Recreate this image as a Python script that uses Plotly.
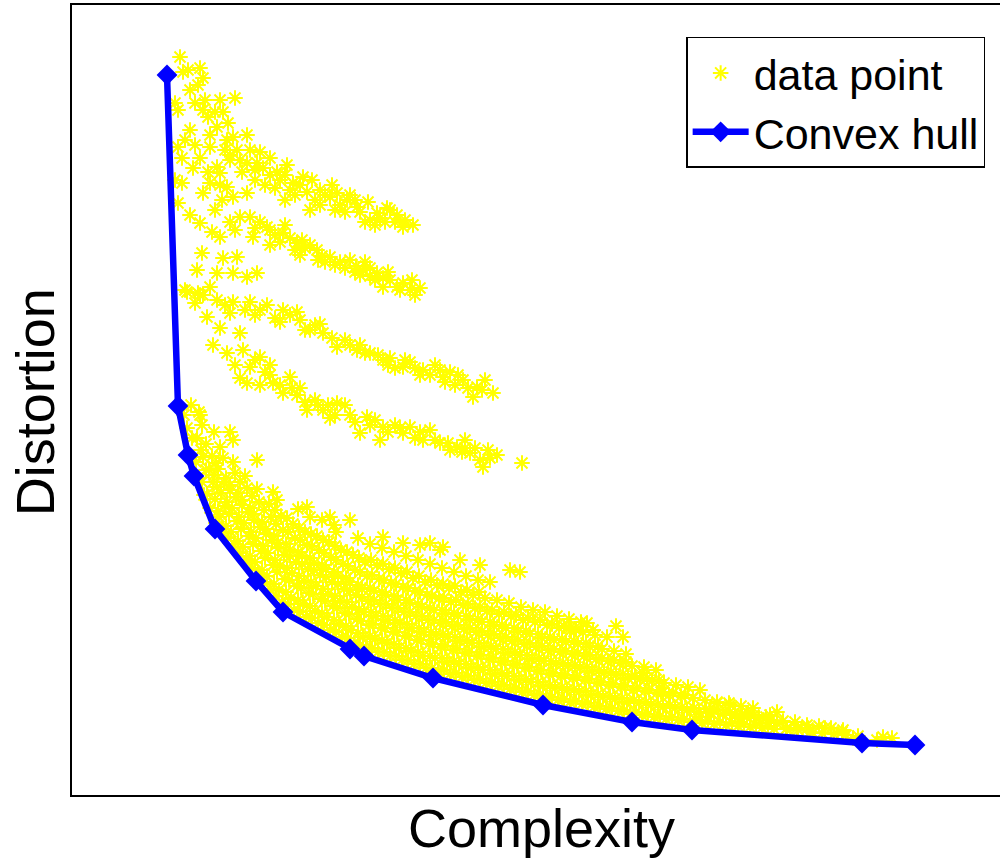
import plotly.graph_objects as go

# Convex hull vertices (complexity, distortion) in arbitrary units
hull_complexity = [97, 108, 118, 124, 145, 186, 213, 280, 294, 363, 473, 562, 622, 792, 845]
hull_distortion = [725, 394, 345, 324, 271, 219, 188, 151, 144, 122, 95, 78, 70, 57, 55]

# Data point clusters (complexity, distortion)
band_a = [
    (108, 653), (112, 642), (123, 632), (130, 642), (147, 633), (150, 627), (140, 617), (133, 607),
    (157, 613), (163, 603), (177, 607), (108, 597), (120, 585), (130, 577), (142, 568), (150, 563),
    (132, 547), (153, 542), (167, 543), (127, 530), (147, 527), (163, 527), (177, 523), (187, 527),
    (115, 510), (133, 505), (140, 513), (105, 620), (112, 617), (105, 697), (108, 690), (113, 728),
    (110, 743), (130, 732), (133, 722), (165, 702), (120, 710), (125, 697), (133, 690), (145, 688),
    (153, 688), (138, 683), (147, 673), (158, 677), (120, 670), (140, 653), (157, 660), (163, 663),
    (177, 665), (167, 650), (180, 650), (190, 648), (177, 637), (187, 637), (200, 642), (193, 632),
    (207, 628), (217, 635), (210, 620), (223, 617), (233, 623), (237, 608), (250, 610), (260, 603),
    (267, 607), (277, 600), (287, 593), (298, 598), (307, 587), (317, 592), (327, 585), (333, 573),
    (343, 575), (230, 615), (245, 600), (220, 610), (270, 595), (290, 588), (310, 582), (325, 578),
    (280, 605), (200, 625), (185, 630), (170, 640), (155, 650), (300, 580), (250, 595),
    (185, 620), (195, 615), (205, 612), (215, 600), (225, 605), (240, 590), (255, 605), (265, 590),
    (275, 588), (285, 600), (295, 578), (305, 575), (315, 578), (320, 590), (335, 580), (262, 615),
    (242, 620), (215, 625), (172, 628), (160, 640), (150, 615), (138, 628), (125, 655), (115, 660),
    (135, 700), (150, 700), (128, 715), (118, 730), (140, 665), (160, 645),
]
band_b = [
    (180, 583), (197, 573), (213, 567), (227, 557), (247, 550), (260, 543), (280, 540), (293, 530),
    (307, 527), (320, 520), (333, 517), (350, 512), (183, 563), (190, 578), (170, 583), (160, 578),
    (205, 565), (220, 562), (235, 552), (252, 544), (270, 538), (286, 534), (300, 524), (313, 522),
    (327, 513), (340, 510), (313, 513), (290, 525), (275, 532), (230, 545), (200, 555), (342, 520),
    (145, 590), (152, 600), (165, 570), (185, 572), (210, 558), (225, 550), (240, 555), (255, 538),
    (265, 535), (285, 528), (295, 538), (305, 520), (318, 528), (330, 510), (345, 505), (300, 532),
    (248, 540), (232, 560), (215, 575), (200, 570),
]
band_c = [
    (117, 508), (130, 505), (147, 500), (163, 498), (180, 498), (197, 495), (213, 490), (227, 488),
    (240, 470), (253, 467), (267, 453), (287, 450), (300, 447), (313, 440), (333, 433), (353, 430),
    (373, 423), (393, 420), (407, 413), (423, 407), (403, 403), (137, 483), (150, 472), (143, 455),
    (170, 467), (160, 487), (230, 480), (245, 475), (275, 460), (290, 455), (320, 442), (340, 438),
    (360, 425), (380, 428), (385, 415), (415, 420), (365, 435), (325, 432), (205, 482), (185, 485),
    (125, 497), (128, 507), (155, 495), (175, 490), (190, 490), (210, 478), (220, 485), (235, 470),
    (250, 476), (262, 462), (280, 455), (295, 447), (308, 445), (318, 435), (335, 440), (350, 425),
    (370, 430), (388, 425), (398, 412), (412, 410), (375, 418), (345, 432),
]
band_d = [
    (157, 447), (173, 450), (190, 443), (180, 433), (177, 417), (190, 415), (203, 417), (220, 423),
    (213, 407), (227, 405), (237, 390), (253, 390), (267, 397), (280, 385), (297, 383), (313, 373),
    (333, 367), (353, 360), (370, 357), (387, 353), (400, 347), (413, 333), (427, 345), (452, 337),
    (340, 373), (290, 367), (310, 360), (165, 435), (200, 435), (245, 400), (260, 382), (275, 395),
    (325, 375), (345, 362), (360, 370), (380, 350), (395, 360), (418, 350), (305, 380), (230, 412),
    (170, 422), (195, 428), (185, 440), (200, 425), (210, 415), (222, 412), (235, 398), (248, 395),
    (258, 395), (265, 385), (285, 378), (300, 375), (318, 368), (330, 372), (350, 368), (365, 360),
    (378, 357), (392, 348), (405, 352), (420, 342), (410, 340), (395, 352),
]
lower_core = [
    (114, 385), (117, 372), (121, 395), (122, 362),
    (128, 322), (126, 338), (131, 350), (127, 362), (132, 375), (129, 388),
    (140, 292), (137, 306), (143, 318), (139, 331), (142, 344), (136, 356), (144, 368),
    (152, 271), (149, 283), (155, 294), (151, 307), (154, 318), (148, 331), (153, 342), (150, 353),
    (164, 256), (161, 268), (167, 279), (162, 292), (166, 303), (160, 315), (165, 327), (163, 338),
    (176, 240), (173, 253), (179, 264), (174, 277), (178, 288), (172, 300), (177, 312), (175, 324),
    (188, 226), (185, 238), (191, 249), (186, 262), (190, 273), (184, 286), (189, 298), (187, 311),
    (200, 211), (197, 224), (203, 235), (198, 247), (202, 260), (196, 271), (201, 283), (199, 296), (203, 308),
    (212, 197), (209, 210), (215, 221), (210, 234), (214, 245), (208, 257), (213, 270), (211, 284), (207, 300),
    (224, 190), (221, 202), (227, 214), (222, 227), (226, 238), (220, 250), (225, 262), (223, 276), (228, 291),
    (236, 183), (233, 196), (239, 207), (234, 219), (238, 231), (232, 244), (237, 255), (235, 268), (240, 283),
    (248, 177), (245, 189), (251, 201), (246, 214), (250, 225), (244, 237), (249, 250), (247, 264), (252, 280),
    (260, 170), (257, 183), (263, 194), (258, 206), (262, 218), (256, 231), (261, 243), (259, 258), (264, 275),
    (272, 163), (269, 176), (275, 187), (270, 199), (274, 211), (268, 224), (273, 236), (271, 250), (266, 268),
    (284, 157), (281, 170), (287, 181), (282, 193), (286, 205), (280, 218), (285, 230), (283, 245), (288, 262),
    (296, 151), (293, 163), (299, 175), (294, 188), (298, 199), (292, 211), (297, 224), (295, 238), (300, 256),
    (308, 148), (305, 161), (311, 172), (306, 184), (310, 196), (304, 209), (309, 221), (307, 235), (312, 252),
    (320, 144), (317, 157), (323, 168), (318, 180), (322, 192), (316, 205), (321, 217), (319, 231), (324, 248),
    (332, 140), (329, 152), (335, 164), (330, 177), (334, 188), (328, 200), (333, 213), (331, 227), (336, 244),
    (344, 136), (341, 149), (347, 160), (342, 172), (346, 184), (340, 197), (345, 209), (343, 222), (348, 240),
    (356, 132), (353, 144), (359, 156), (354, 168), (358, 180), (352, 193), (357, 205), (355, 218), (360, 236),
    (368, 129), (365, 142), (371, 153), (366, 165), (370, 177), (364, 190), (369, 202), (367, 215), (372, 232),
    (380, 126), (377, 138), (383, 150), (378, 163), (382, 174), (376, 186), (381, 198), (379, 212), (384, 228),
    (392, 123), (389, 136), (395, 147), (390, 159), (394, 171), (388, 184), (393, 195), (391, 208), (396, 224),
    (404, 120), (401, 132), (407, 144), (402, 157), (406, 168), (400, 180), (405, 192), (403, 205), (408, 220),
    (416, 117), (413, 130), (419, 141), (414, 153), (418, 165), (412, 178), (417, 189), (415, 202), (420, 218),
    (428, 114), (425, 126), (431, 138), (426, 151), (430, 162), (424, 174), (429, 186), (427, 200),
    (440, 111), (437, 124), (443, 135), (438, 147), (442, 159), (436, 172), (441, 184), (439, 197),
    (452, 108), (449, 120), (455, 132), (450, 145), (454, 156), (448, 168), (453, 180), (451, 193),
    (464, 105), (461, 118), (467, 129), (462, 141), (466, 153), (460, 166), (465, 178), (463, 190),
    (476, 102), (473, 114), (479, 126), (474, 139), (478, 150), (472, 162), (477, 175), (475, 188),
    (488, 100), (485, 112), (491, 124), (486, 136), (490, 148), (484, 160), (489, 172), (487, 184),
    (500, 98), (497, 110), (503, 122), (498, 134), (502, 146), (496, 158), (501, 170), (499, 181),
    (512, 96), (509, 108), (515, 120), (510, 132), (514, 144), (508, 156), (513, 168), (511, 178),
    (524, 93), (521, 105), (527, 117), (522, 129), (526, 141), (520, 153), (525, 165),
    (536, 91), (533, 103), (539, 115), (534, 127), (538, 139), (532, 151), (537, 163),
    (548, 89), (545, 101), (551, 113), (546, 125), (550, 137), (544, 149),
    (560, 86), (557, 98), (563, 110), (558, 122), (562, 134), (556, 146),
    (572, 85), (569, 97), (575, 109), (570, 121), (574, 133),
    (584, 83), (581, 95), (587, 107), (582, 119), (586, 130),
    (596, 81), (593, 93), (599, 105), (594, 117),
    (608, 80), (605, 92), (611, 104), (606, 115),
    (620, 78), (617, 90), (623, 102), (618, 113),
    (632, 77), (629, 88), (635, 100),
    (644, 76), (641, 87), (647, 98),
    (656, 75), (653, 86), (659, 97),
    (668, 74), (665, 85), (671, 94),
    (680, 73), (677, 83), (683, 92),
    (692, 72), (689, 82),
    (704, 71), (701, 80), (707, 88),
    (716, 71), (713, 79),
    (728, 70), (725, 78),
    (740, 68), (737, 75),
    (752, 67), (749, 74),
    (764, 66), (761, 72),
    (776, 65), (773, 70),
    (788, 64),
]
lower_fill = [
    (134, 305), (132, 318), (136, 330), (133, 343),
    (146, 277), (148, 289), (145, 301), (147, 313), (144, 325), (146, 337),
    (158, 262), (156, 274), (159, 286), (157, 298), (160, 310), (156, 322),
    (170, 247), (168, 259), (171, 271), (169, 283), (172, 295), (168, 307), (170, 318),
    (182, 232), (180, 244), (183, 256), (181, 268), (184, 280), (180, 292), (182, 304),
    (194, 218), (192, 230), (195, 242), (193, 254), (196, 266), (192, 278), (194, 290),
    (206, 204), (204, 216), (207, 228), (205, 240), (208, 252), (204, 264), (206, 276), (205, 290),
    (218, 196), (216, 208), (219, 220), (217, 232), (220, 244), (216, 256), (218, 268), (217, 282),
    (230, 188), (228, 200), (231, 212), (229, 224), (232, 236), (228, 248), (230, 260), (229, 272),
    (242, 182), (240, 194), (243, 206), (241, 218), (244, 230), (240, 242), (242, 254), (241, 266),
    (254, 175), (252, 187), (255, 199), (253, 211), (256, 223), (252, 235), (254, 247), (253, 260),
    (266, 168), (264, 180), (267, 192), (265, 204), (268, 216), (264, 228), (266, 240), (265, 254),
    (278, 162), (276, 174), (279, 186), (277, 198), (280, 210), (276, 222), (278, 234), (277, 248),
    (290, 155), (288, 167), (291, 179), (289, 191), (292, 203), (288, 215), (290, 228), (289, 242),
    (302, 152), (300, 164), (303, 176), (301, 188), (304, 200), (300, 212), (302, 225), (301, 240),
    (314, 148), (312, 160), (315, 172), (313, 184), (316, 196), (312, 208), (314, 220), (313, 236),
    (326, 144), (324, 156), (327, 168), (325, 180), (328, 192), (324, 204), (326, 216), (325, 232),
    (338, 140), (336, 152), (339, 164), (337, 176), (340, 188), (336, 200), (338, 212), (337, 228),
    (350, 136), (348, 148), (351, 160), (349, 172), (352, 184), (348, 196), (350, 208), (349, 224),
    (362, 132), (360, 144), (363, 156), (361, 168), (364, 180), (360, 192), (362, 204), (361, 220),
    (374, 130), (372, 142), (375, 154), (373, 166), (376, 178), (372, 190), (374, 202), (373, 216),
    (386, 127), (384, 139), (387, 151), (385, 163), (388, 175), (384, 187), (386, 200), (385, 214),
    (398, 124), (396, 136), (399, 148), (397, 160), (400, 172), (396, 184), (398, 196), (397, 210),
    (410, 121), (408, 133), (411, 145), (409, 157), (412, 169), (408, 181), (410, 193), (409, 208),
    (422, 118), (420, 130), (423, 142), (421, 154), (424, 166), (420, 178), (422, 190),
    (434, 115), (432, 127), (435, 139), (433, 151), (436, 163), (432, 175), (434, 188),
    (446, 112), (444, 124), (447, 136), (445, 148), (448, 160), (444, 172), (446, 185),
    (458, 109), (456, 121), (459, 133), (457, 145), (460, 157), (456, 169), (458, 182),
    (470, 106), (468, 118), (471, 130), (469, 142), (472, 154), (468, 166), (470, 180),
    (482, 103), (480, 115), (483, 127), (481, 139), (484, 151), (480, 163), (482, 176),
    (494, 101), (492, 113), (495, 125), (493, 137), (496, 149), (492, 161), (494, 174),
    (506, 99), (504, 111), (507, 123), (505, 135), (508, 147), (504, 159), (506, 170),
    (518, 97), (516, 109), (519, 121), (517, 133), (520, 145), (516, 157),
    (530, 94), (528, 106), (531, 118), (529, 130), (532, 142), (528, 154),
    (542, 92), (540, 104), (543, 116), (541, 128), (544, 140),
    (554, 90), (552, 102), (555, 114), (553, 126), (556, 138),
    (566, 88), (564, 100), (567, 112), (565, 124),
    (578, 86), (576, 98), (579, 110), (577, 122),
    (590, 84), (588, 96), (591, 108), (589, 120),
    (602, 83), (600, 95), (603, 107),
    (614, 81), (612, 93), (615, 105),
    (626, 80), (624, 92),
    (638, 79), (636, 91),
    (650, 78), (648, 90),
    (662, 77), (660, 88),
    (674, 76), (672, 86),
    (686, 75), (684, 85),
    (698, 74), (696, 83),
]
lower_sparse = [
    (237, 293), (260, 283), (280, 280), (313, 263), (333, 257), (360, 257), (373, 253), (350, 255),
    (370, 250), (390, 240), (410, 235), (440, 230), (450, 228), (187, 340), (163, 360), (130, 385),
    (160, 368), (546, 174), (553, 163), (517, 177), (523, 170), (500, 172), (573, 127), (593, 108),
]
tail = [
    (630, 110), (647, 97), (660, 95), (678, 87), (690, 77), (700, 85), (717, 72), (727, 72),
    (738, 72), (755, 72), (772, 68), (813, 63), (822, 62), (807, 60), (783, 62), (743, 67),
    (707, 77), (670, 82), (640, 88), (630, 83),
]

all_points = band_a + band_b + band_c + band_d + lower_core + lower_fill + lower_sparse + tail
point_complexity = [p[0] for p in all_points]
point_distortion = [p[1] for p in all_points]

FONT = "Liberation Sans, Arial, sans-serif"

fig = go.Figure()
fig.add_trace(go.Scatter(
    x=point_complexity, y=point_distortion, mode="markers", name="data point",
    marker=dict(symbol="asterisk-open", size=13, color="#FFFF00",
                line=dict(color="#FFFF00", width=2)),
))
fig.add_trace(go.Scatter(
    x=hull_complexity, y=hull_distortion, mode="lines+markers", name="Convex hull",
    line=dict(color="#0000FF", width=6.5),
    marker=dict(symbol="diamond", size=16, color="#0000FF"),
))

fig.update_layout(
    width=1000, height=859,
    margin=dict(l=72, r=0, t=5, b=64),
    paper_bgcolor="white", plot_bgcolor="white",
    font=dict(family=FONT, color="black"),
    showlegend=True,
    legend=dict(
        x=0.984, y=0.9595, xanchor="right", yanchor="top",
        bordercolor="black", borderwidth=1.5, bgcolor="white",
        font=dict(size=43, family=FONT, color="black"),
        itemwidth=56, tracegroupgap=0,
    ),
    annotations=[
        dict(text="Complexity", x=0.506, y=-0.042, xref="paper", yref="paper",
             xanchor="center", yanchor="middle", showarrow=False,
             font=dict(size=54, family=FONT, color="black")),
        dict(text="Distortion", x=-0.04, y=0.497, xref="paper", yref="paper",
             xanchor="center", yanchor="middle", showarrow=False, textangle=-90,
             font=dict(size=54, family=FONT, color="black")),
    ],
)
fig.update_xaxes(range=[2, 930], showgrid=False, zeroline=False, showticklabels=False,
                 ticks="", showline=True, linecolor="black", linewidth=2, mirror=True)
fig.update_yaxes(range=[5, 795], showgrid=False, zeroline=False, showticklabels=False,
                 ticks="", showline=True, linecolor="black", linewidth=2, mirror=False)

fig.write_html("out.html")
